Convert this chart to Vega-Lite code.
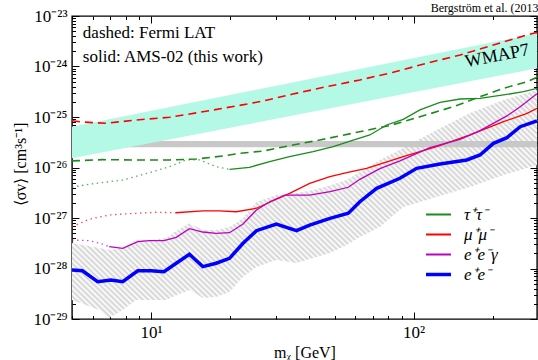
{
  "$schema": "https://vega.github.io/schema/vega-lite/v6.json",
  "width": 465,
  "height": 303,
  "autosize": {"type": "none"},
  "padding": {"left": 72, "top": 16, "right": 1, "bottom": 41},
  "background": "white",
  "title": {"text": "Bergström et al. (2013)", "anchor": "end", "fontSize": 12, "fontWeight": "normal", "font": "Liberation Serif", "offset": -2, "dx": 5, "dy": 6, "color": "#000"},
  "config": {
    "view": {"stroke": "#000", "strokeWidth": 1.4},
    "font": "Liberation Serif",
    "axis": {"grid": false, "domain": false, "tickColor": "#000", "labelColor": "#000", "labelFont": "Liberation Serif", "labelFontSize": 17, "titleFont": "Liberation Serif", "titleFontSize": 16, "titleFontWeight": "normal", "titleColor": "#000", "labelOverlap": false, "labelPadding": 12},
    "legend": {"title": null, "orient": "none", "legendX": 358, "legendY": 190, "symbolType": "stroke", "symbolSize": 625, "symbolStrokeWidth": 2, "labelFont": "Liberation Serif", "labelFontStyle": "italic", "labelFontSize": 17, "labelOffset": 17, "rowPadding": 2, "labelColor": "#000"}
  },
  "datasets": {
    "bands": [
      {"b": "wmap", "m": 5, "lo": 1.52e-26, "hi": 6.43e-26},
      {"b": "wmap", "m": 295, "lo": 9.21e-25, "hi": 4.54e-24},
      {"b": "relic", "m": 5, "lo": 2.51e-26, "hi": 3.35e-26},
      {"b": "relic", "m": 295, "lo": 2.51e-26, "hi": 3.35e-26}
    ],
    "hatch": [
      {"m": 5, "lo": 2.38e-29, "hi": 3.2e-28},
      {"m": 6.35, "lo": 1.51e-29, "hi": 2.55e-28},
      {"m": 6.93, "lo": 1.05e-29, "hi": 2.32e-28},
      {"m": 7.8, "lo": 1.51e-29, "hi": 2.55e-28},
      {"m": 8.77, "lo": 2.38e-29, "hi": 3.67e-28},
      {"m": 9.86, "lo": 2.38e-29, "hi": 3.67e-28},
      {"m": 11.45, "lo": 2.38e-29, "hi": 4.02e-28},
      {"m": 12.28, "lo": 2.85e-29, "hi": 5.28e-28},
      {"m": 14, "lo": 3.75e-29, "hi": 7.96e-28},
      {"m": 15.75, "lo": 2.61e-29, "hi": 5.78e-28},
      {"m": 17.7, "lo": 2.73e-29, "hi": 5.78e-28},
      {"m": 19.9, "lo": 3.43e-29, "hi": 6.64e-28},
      {"m": 22.4, "lo": 6.79e-29, "hi": 1.0e-27},
      {"m": 25.2, "lo": 1.07e-28, "hi": 2.07e-27},
      {"m": 30, "lo": 1.47e-28, "hi": 2.85e-27},
      {"m": 35.8, "lo": 1.29e-28, "hi": 3.13e-27},
      {"m": 41.4, "lo": 1.61e-28, "hi": 3.58e-27},
      {"m": 48, "lo": 2.03e-28, "hi": 4.41e-27},
      {"m": 55.6, "lo": 2.92e-28, "hi": 5.65e-27},
      {"m": 62.4, "lo": 4.21e-28, "hi": 8.14e-27},
      {"m": 74.4, "lo": 6.64e-28, "hi": 1.41e-26},
      {"m": 91.3, "lo": 1.65e-27, "hi": 2.43e-26},
      {"m": 122.3, "lo": 2.61e-27, "hi": 5.53e-26},
      {"m": 164, "lo": 4.11e-27, "hi": 1.2e-25},
      {"m": 220, "lo": 7.1e-27, "hi": 2.17e-25},
      {"m": 295, "lo": 1.12e-26, "hi": 3.43e-25}
    ],
    "lines": [
      {"s": "solid", "ch": "τ⁺τ⁻", "m": 19.9, "v": 9.21e-27},
      {"s": "solid", "ch": "τ⁺τ⁻", "m": 23.7, "v": 1.01e-26},
      {"s": "solid", "ch": "τ⁺τ⁻", "m": 28.3, "v": 1.30e-26},
      {"s": "solid", "ch": "τ⁺τ⁻", "m": 33.7, "v": 1.64e-26},
      {"s": "solid", "ch": "τ⁺τ⁻", "m": 41.4, "v": 2.06e-26},
      {"s": "solid", "ch": "τ⁺τ⁻", "m": 49.4, "v": 2.58e-26},
      {"s": "solid", "ch": "τ⁺τ⁻", "m": 58.9, "v": 3.50e-26},
      {"s": "solid", "ch": "τ⁺τ⁻", "m": 68.1, "v": 4.41e-26},
      {"s": "solid", "ch": "τ⁺τ⁻", "m": 78.9, "v": 6.95e-26},
      {"s": "solid", "ch": "τ⁺τ⁻", "m": 91.3, "v": 9.0e-26},
      {"s": "solid", "ch": "τ⁺τ⁻", "m": 105.7, "v": 1.38e-25},
      {"s": "solid", "ch": "τ⁺τ⁻", "m": 126, "v": 1.95e-25},
      {"s": "solid", "ch": "τ⁺τ⁻", "m": 150.3, "v": 2.27e-25},
      {"s": "solid", "ch": "τ⁺τ⁻", "m": 179, "v": 2.34e-25},
      {"s": "solid", "ch": "τ⁺τ⁻", "m": 219.9, "v": 2.73e-25},
      {"s": "solid", "ch": "τ⁺τ⁻", "m": 262.4, "v": 3.17e-25},
      {"s": "solid", "ch": "τ⁺τ⁻", "m": 295, "v": 3.7e-25},
      {"s": "dashed", "ch": "τ⁺τ⁻", "m": 5, "v": 1.35e-26},
      {"s": "dashed", "ch": "τ⁺τ⁻", "m": 6.54, "v": 1.43e-26},
      {"s": "dashed", "ch": "τ⁺τ⁻", "m": 8.77, "v": 1.41e-26},
      {"s": "dashed", "ch": "τ⁺τ⁻", "m": 11.76, "v": 1.41e-26},
      {"s": "dashed", "ch": "τ⁺τ⁻", "m": 14.86, "v": 1.47e-26},
      {"s": "dashed", "ch": "τ⁺τ⁻", "m": 18.77, "v": 1.69e-26},
      {"s": "dashed", "ch": "τ⁺τ⁻", "m": 21.7, "v": 1.91e-26},
      {"s": "dashed", "ch": "τ⁺τ⁻", "m": 26.7, "v": 2.12e-26},
      {"s": "dashed", "ch": "τ⁺τ⁻", "m": 34.7, "v": 2.79e-26},
      {"s": "dashed", "ch": "τ⁺τ⁻", "m": 43.9, "v": 3.5e-26},
      {"s": "dashed", "ch": "τ⁺τ⁻", "m": 81.3, "v": 6.8e-26},
      {"s": "dashed", "ch": "τ⁺τ⁻", "m": 105.7, "v": 1.01e-25},
      {"s": "dashed", "ch": "τ⁺τ⁻", "m": 141.6, "v": 1.6e-25},
      {"s": "dashed", "ch": "τ⁺τ⁻", "m": 179, "v": 2.52e-25},
      {"s": "dashed", "ch": "τ⁺τ⁻", "m": 219.9, "v": 3.7e-25},
      {"s": "dashed", "ch": "τ⁺τ⁻", "m": 270.4, "v": 5.0e-25},
      {"s": "dashed", "ch": "τ⁺τ⁻", "m": 295, "v": 6.11e-25},
      {"s": "dotted", "ch": "τ⁺τ⁻", "m": 5, "v": 4.11e-27},
      {"s": "dotted", "ch": "τ⁺τ⁻", "m": 6.17, "v": 4.86e-27},
      {"s": "dotted", "ch": "τ⁺τ⁻", "m": 7.8, "v": 5.65e-27},
      {"s": "dotted", "ch": "τ⁺τ⁻", "m": 9.86, "v": 7.89e-27},
      {"s": "dotted", "ch": "τ⁺τ⁻", "m": 11.76, "v": 1.04e-26},
      {"s": "dotted", "ch": "τ⁺τ⁻", "m": 13.6, "v": 1.41e-26},
      {"s": "dotted", "ch": "τ⁺τ⁻", "m": 15.3, "v": 1.41e-26},
      {"s": "dotted", "ch": "τ⁺τ⁻", "m": 17.7, "v": 1.04e-26},
      {"s": "dotted", "ch": "τ⁺τ⁻", "m": 19.9, "v": 9.21e-27},
      {"s": "solid", "ch": "μ⁺μ⁻", "m": 12.39, "v": 1.27e-27},
      {"s": "solid", "ch": "μ⁺μ⁻", "m": 15.75, "v": 1.38e-27},
      {"s": "solid", "ch": "μ⁺μ⁻", "m": 18.2, "v": 1.38e-27},
      {"s": "solid", "ch": "μ⁺μ⁻", "m": 21.1, "v": 1.33e-27},
      {"s": "solid", "ch": "μ⁺μ⁻", "m": 25.2, "v": 1.56e-27},
      {"s": "solid", "ch": "μ⁺μ⁻", "m": 29.6, "v": 2.27e-27},
      {"s": "solid", "ch": "μ⁺μ⁻", "m": 33.7, "v": 3.08e-27},
      {"s": "solid", "ch": "μ⁺μ⁻", "m": 40.2, "v": 4.86e-27},
      {"s": "solid", "ch": "μ⁺μ⁻", "m": 48, "v": 6.58e-27},
      {"s": "solid", "ch": "μ⁺μ⁻", "m": 55.6, "v": 7.89e-27},
      {"s": "solid", "ch": "μ⁺μ⁻", "m": 66.2, "v": 9.64e-27},
      {"s": "solid", "ch": "μ⁺μ⁻", "m": 74.4, "v": 1.17e-26},
      {"s": "solid", "ch": "μ⁺μ⁻", "m": 91.3, "v": 1.64e-26},
      {"s": "solid", "ch": "μ⁺μ⁻", "m": 122.3, "v": 2.58e-26},
      {"s": "solid", "ch": "μ⁺μ⁻", "m": 164, "v": 4.41e-26},
      {"s": "solid", "ch": "μ⁺μ⁻", "m": 219.9, "v": 8.07e-26},
      {"s": "solid", "ch": "μ⁺μ⁻", "m": 270.4, "v": 1.18e-25},
      {"s": "solid", "ch": "μ⁺μ⁻", "m": 295, "v": 1.49e-25},
      {"s": "dashed", "ch": "μ⁺μ⁻", "m": 5, "v": 8.45e-26},
      {"s": "dashed", "ch": "μ⁺μ⁻", "m": 5.48, "v": 7.96e-26},
      {"s": "dashed", "ch": "μ⁺μ⁻", "m": 6.73, "v": 7.5e-26},
      {"s": "dashed", "ch": "μ⁺μ⁻", "m": 8.77, "v": 8.73e-26},
      {"s": "dashed", "ch": "μ⁺μ⁻", "m": 11.76, "v": 9.86e-26},
      {"s": "dashed", "ch": "μ⁺μ⁻", "m": 15.75, "v": 1.27e-25},
      {"s": "dashed", "ch": "μ⁺μ⁻", "m": 21.1, "v": 1.65e-25},
      {"s": "dashed", "ch": "μ⁺μ⁻", "m": 26.7, "v": 2.07e-25},
      {"s": "dashed", "ch": "μ⁺μ⁻", "m": 34.7, "v": 2.85e-25},
      {"s": "dashed", "ch": "μ⁺μ⁻", "m": 46.6, "v": 3.98e-25},
      {"s": "dashed", "ch": "μ⁺μ⁻", "m": 62.4, "v": 5.41e-25},
      {"s": "dashed", "ch": "μ⁺μ⁻", "m": 83.6, "v": 7.68e-25},
      {"s": "dashed", "ch": "μ⁺μ⁻", "m": 112.1, "v": 1.16e-24},
      {"s": "dashed", "ch": "μ⁺μ⁻", "m": 150.3, "v": 1.69e-24},
      {"s": "dashed", "ch": "μ⁺μ⁻", "m": 201.3, "v": 2.67e-24},
      {"s": "dashed", "ch": "μ⁺μ⁻", "m": 270.4, "v": 4.21e-24},
      {"s": "dashed", "ch": "μ⁺μ⁻", "m": 295, "v": 4.75e-24},
      {"s": "dotted", "ch": "μ⁺μ⁻", "m": 5, "v": 6.73e-28},
      {"s": "dotted", "ch": "μ⁺μ⁻", "m": 5.82, "v": 9.42e-28},
      {"s": "dotted", "ch": "μ⁺μ⁻", "m": 6.93, "v": 1.15e-27},
      {"s": "dotted", "ch": "μ⁺μ⁻", "m": 8.77, "v": 1.24e-27},
      {"s": "dotted", "ch": "μ⁺μ⁻", "m": 10.45, "v": 1.3e-27},
      {"s": "dotted", "ch": "μ⁺μ⁻", "m": 12.39, "v": 1.27e-27},
      {"s": "solid", "ch": "e⁺e⁻γ", "m": 6.93, "v": 2.7e-28},
      {"s": "solid", "ch": "e⁺e⁻γ", "m": 7.8, "v": 2.51e-28},
      {"s": "solid", "ch": "e⁺e⁻γ", "m": 8.9, "v": 3.39e-28},
      {"s": "solid", "ch": "e⁺e⁻γ", "m": 9.86, "v": 3.55e-28},
      {"s": "solid", "ch": "e⁺e⁻γ", "m": 11.2, "v": 3.55e-28},
      {"s": "solid", "ch": "e⁺e⁻γ", "m": 12.47, "v": 4.15e-28},
      {"s": "solid", "ch": "e⁺e⁻γ", "m": 14, "v": 6.14e-28},
      {"s": "solid", "ch": "e⁺e⁻γ", "m": 15.75, "v": 5.28e-28},
      {"s": "solid", "ch": "e⁺e⁻γ", "m": 17.7, "v": 4.98e-28},
      {"s": "solid", "ch": "e⁺e⁻γ", "m": 19.9, "v": 5.12e-28},
      {"s": "solid", "ch": "e⁺e⁻γ", "m": 22.4, "v": 7.6e-28},
      {"s": "solid", "ch": "e⁺e⁻γ", "m": 25.2, "v": 1.44e-27},
      {"s": "solid", "ch": "e⁺e⁻γ", "m": 28.3, "v": 2.1e-27},
      {"s": "solid", "ch": "e⁺e⁻γ", "m": 32.3, "v": 2.85e-27},
      {"s": "solid", "ch": "e⁺e⁻γ", "m": 40.2, "v": 2.85e-27},
      {"s": "solid", "ch": "e⁺e⁻γ", "m": 48, "v": 3.32e-27},
      {"s": "solid", "ch": "e⁺e⁻γ", "m": 56.4, "v": 4.06e-27},
      {"s": "solid", "ch": "e⁺e⁻γ", "m": 62.4, "v": 5.83e-27},
      {"s": "solid", "ch": "e⁺e⁻γ", "m": 74.4, "v": 9.5e-27},
      {"s": "solid", "ch": "e⁺e⁻γ", "m": 88.7, "v": 1.35e-26},
      {"s": "solid", "ch": "e⁺e⁻γ", "m": 115.4, "v": 2.47e-26},
      {"s": "solid", "ch": "e⁺e⁻γ", "m": 150.3, "v": 3.61e-26},
      {"s": "solid", "ch": "e⁺e⁻γ", "m": 179, "v": 5.36e-26},
      {"s": "solid", "ch": "e⁺e⁻γ", "m": 226.6, "v": 1.05e-25},
      {"s": "solid", "ch": "e⁺e⁻γ", "m": 254.6, "v": 1.6e-25},
      {"s": "solid", "ch": "e⁺e⁻γ", "m": 295, "v": 2.9e-25},
      {"s": "dotted", "ch": "e⁺e⁻γ", "m": 5, "v": 3.67e-28},
      {"s": "dotted", "ch": "e⁺e⁻γ", "m": 5.82, "v": 3.55e-28},
      {"s": "dotted", "ch": "e⁺e⁻γ", "m": 6.54, "v": 3.05e-28},
      {"s": "dotted", "ch": "e⁺e⁻γ", "m": 6.93, "v": 2.7e-28},
      {"s": "solid", "ch": "e⁺e⁻", "m": 5, "v": 9.33e-29},
      {"s": "solid", "ch": "e⁺e⁻", "m": 5.48, "v": 9.04e-29},
      {"s": "solid", "ch": "e⁺e⁻", "m": 6.26, "v": 5.48e-29},
      {"s": "solid", "ch": "e⁺e⁻", "m": 7.04, "v": 5.92e-29},
      {"s": "solid", "ch": "e⁺e⁻", "m": 7.8, "v": 5.48e-29},
      {"s": "solid", "ch": "e⁺e⁻", "m": 8.9, "v": 9.04e-29},
      {"s": "solid", "ch": "e⁺e⁻", "m": 10, "v": 9.04e-29},
      {"s": "solid", "ch": "e⁺e⁻", "m": 11.2, "v": 8.65e-29},
      {"s": "solid", "ch": "e⁺e⁻", "m": 12.47, "v": 1.27e-28},
      {"s": "solid", "ch": "e⁺e⁻", "m": 14, "v": 1.91e-28},
      {"s": "solid", "ch": "e⁺e⁻", "m": 15.75, "v": 1.09e-28},
      {"s": "solid", "ch": "e⁺e⁻", "m": 17.7, "v": 1.27e-28},
      {"s": "solid", "ch": "e⁺e⁻", "m": 19.9, "v": 1.59e-28},
      {"s": "solid", "ch": "e⁺e⁻", "m": 22.4, "v": 3.15e-28},
      {"s": "solid", "ch": "e⁺e⁻", "m": 25.2, "v": 5.61e-28},
      {"s": "solid", "ch": "e⁺e⁻", "m": 30, "v": 7.6e-28},
      {"s": "solid", "ch": "e⁺e⁻", "m": 35.8, "v": 5.61e-28},
      {"s": "solid", "ch": "e⁺e⁻", "m": 40.2, "v": 7.26e-28},
      {"s": "solid", "ch": "e⁺e⁻", "m": 48, "v": 9.86e-28},
      {"s": "solid", "ch": "e⁺e⁻", "m": 56.4, "v": 1.24e-27},
      {"s": "solid", "ch": "e⁺e⁻", "m": 62.4, "v": 2.1e-27},
      {"s": "solid", "ch": "e⁺e⁻", "m": 72.3, "v": 3.87e-27},
      {"s": "solid", "ch": "e⁺e⁻", "m": 88.7, "v": 6.11e-27},
      {"s": "solid", "ch": "e⁺e⁻", "m": 102.7, "v": 9.64e-27},
      {"s": "solid", "ch": "e⁺e⁻", "m": 126, "v": 1.17e-26},
      {"s": "solid", "ch": "e⁺e⁻", "m": 159.3, "v": 1.41e-26},
      {"s": "solid", "ch": "e⁺e⁻", "m": 179, "v": 1.77e-26},
      {"s": "solid", "ch": "e⁺e⁻", "m": 201.3, "v": 3.01e-26},
      {"s": "solid", "ch": "e⁺e⁻", "m": 226.6, "v": 3.89e-26},
      {"s": "solid", "ch": "e⁺e⁻", "m": 254.6, "v": 6.43e-26},
      {"s": "solid", "ch": "e⁺e⁻", "m": 295, "v": 8.33e-26}
    ],
    "notes": [
      {"m": 5.5, "v": 4.6e-24, "t": "dashed: Fermi LAT"},
      {"m": 5.5, "v": 1.54e-24, "t": "solid: AMS-02 (this work)"}
    ],
    "wmap": [
      {"m": 208, "v": 1.6e-24, "t": "WMAP7"}
    ]
  },
  "layer": [
    {
      "data": {"name": "hatch"},
      "mark": {"type": "area", "clip": true, "fill": {"gradient": "linear", "x1": 0, "y1": 1, "x2": 1.2, "y2": 0.4, "stops": [
        {"offset": 0, "color": "#d2d2d2"}, {"offset": 0.004, "color": "#fff"}, {"offset": 0.008, "color": "#d2d2d2"}, {"offset": 0.012, "color": "#fff"}, {"offset": 0.016, "color": "#d2d2d2"}, {"offset": 0.02, "color": "#fff"}, {"offset": 0.024, "color": "#d2d2d2"}, {"offset": 0.028, "color": "#fff"}, {"offset": 0.032, "color": "#d2d2d2"}, {"offset": 0.036, "color": "#fff"},
        {"offset": 0.04, "color": "#d2d2d2"}, {"offset": 0.044, "color": "#fff"}, {"offset": 0.048, "color": "#d2d2d2"}, {"offset": 0.052, "color": "#fff"}, {"offset": 0.056, "color": "#d2d2d2"}, {"offset": 0.06, "color": "#fff"}, {"offset": 0.064, "color": "#d2d2d2"}, {"offset": 0.068, "color": "#fff"}, {"offset": 0.072, "color": "#d2d2d2"}, {"offset": 0.076, "color": "#fff"},
        {"offset": 0.08, "color": "#d2d2d2"}, {"offset": 0.084, "color": "#fff"}, {"offset": 0.088, "color": "#d2d2d2"}, {"offset": 0.092, "color": "#fff"}, {"offset": 0.096, "color": "#d2d2d2"}, {"offset": 0.1, "color": "#fff"}, {"offset": 0.104, "color": "#d2d2d2"}, {"offset": 0.108, "color": "#fff"}, {"offset": 0.112, "color": "#d2d2d2"}, {"offset": 0.116, "color": "#fff"},
        {"offset": 0.12, "color": "#d2d2d2"}, {"offset": 0.124, "color": "#fff"}, {"offset": 0.128, "color": "#d2d2d2"}, {"offset": 0.132, "color": "#fff"}, {"offset": 0.136, "color": "#d2d2d2"}, {"offset": 0.14, "color": "#fff"}, {"offset": 0.144, "color": "#d2d2d2"}, {"offset": 0.148, "color": "#fff"}, {"offset": 0.152, "color": "#d2d2d2"}, {"offset": 0.156, "color": "#fff"},
        {"offset": 0.16, "color": "#d2d2d2"}, {"offset": 0.164, "color": "#fff"}, {"offset": 0.168, "color": "#d2d2d2"}, {"offset": 0.172, "color": "#fff"}, {"offset": 0.176, "color": "#d2d2d2"}, {"offset": 0.18, "color": "#fff"}, {"offset": 0.184, "color": "#d2d2d2"}, {"offset": 0.188, "color": "#fff"}, {"offset": 0.192, "color": "#d2d2d2"}, {"offset": 0.196, "color": "#fff"},
        {"offset": 0.2, "color": "#d2d2d2"}, {"offset": 0.204, "color": "#fff"}, {"offset": 0.208, "color": "#d2d2d2"}, {"offset": 0.212, "color": "#fff"}, {"offset": 0.216, "color": "#d2d2d2"}, {"offset": 0.22, "color": "#fff"}, {"offset": 0.224, "color": "#d2d2d2"}, {"offset": 0.228, "color": "#fff"}, {"offset": 0.232, "color": "#d2d2d2"}, {"offset": 0.236, "color": "#fff"},
        {"offset": 0.24, "color": "#d2d2d2"}, {"offset": 0.244, "color": "#fff"}, {"offset": 0.248, "color": "#d2d2d2"}, {"offset": 0.252, "color": "#fff"}, {"offset": 0.256, "color": "#d2d2d2"}, {"offset": 0.26, "color": "#fff"}, {"offset": 0.264, "color": "#d2d2d2"}, {"offset": 0.268, "color": "#fff"}, {"offset": 0.272, "color": "#d2d2d2"}, {"offset": 0.276, "color": "#fff"},
        {"offset": 0.28, "color": "#d2d2d2"}, {"offset": 0.284, "color": "#fff"}, {"offset": 0.288, "color": "#d2d2d2"}, {"offset": 0.292, "color": "#fff"}, {"offset": 0.296, "color": "#d2d2d2"}, {"offset": 0.3, "color": "#fff"}, {"offset": 0.304, "color": "#d2d2d2"}, {"offset": 0.308, "color": "#fff"}, {"offset": 0.312, "color": "#d2d2d2"}, {"offset": 0.316, "color": "#fff"},
        {"offset": 0.32, "color": "#d2d2d2"}, {"offset": 0.324, "color": "#fff"}, {"offset": 0.328, "color": "#d2d2d2"}, {"offset": 0.332, "color": "#fff"}, {"offset": 0.336, "color": "#d2d2d2"}, {"offset": 0.34, "color": "#fff"}, {"offset": 0.344, "color": "#d2d2d2"}, {"offset": 0.348, "color": "#fff"}, {"offset": 0.352, "color": "#d2d2d2"}, {"offset": 0.356, "color": "#fff"},
        {"offset": 0.36, "color": "#d2d2d2"}, {"offset": 0.364, "color": "#fff"}, {"offset": 0.368, "color": "#d2d2d2"}, {"offset": 0.372, "color": "#fff"}, {"offset": 0.376, "color": "#d2d2d2"}, {"offset": 0.38, "color": "#fff"}, {"offset": 0.384, "color": "#d2d2d2"}, {"offset": 0.388, "color": "#fff"}, {"offset": 0.392, "color": "#d2d2d2"}, {"offset": 0.396, "color": "#fff"},
        {"offset": 0.4, "color": "#d2d2d2"}, {"offset": 0.404, "color": "#fff"}, {"offset": 0.408, "color": "#d2d2d2"}, {"offset": 0.412, "color": "#fff"}, {"offset": 0.416, "color": "#d2d2d2"}, {"offset": 0.42, "color": "#fff"}, {"offset": 0.424, "color": "#d2d2d2"}, {"offset": 0.428, "color": "#fff"}, {"offset": 0.432, "color": "#d2d2d2"}, {"offset": 0.436, "color": "#fff"},
        {"offset": 0.44, "color": "#d2d2d2"}, {"offset": 0.444, "color": "#fff"}, {"offset": 0.448, "color": "#d2d2d2"}, {"offset": 0.452, "color": "#fff"}, {"offset": 0.456, "color": "#d2d2d2"}, {"offset": 0.46, "color": "#fff"}, {"offset": 0.464, "color": "#d2d2d2"}, {"offset": 0.468, "color": "#fff"}, {"offset": 0.472, "color": "#d2d2d2"}, {"offset": 0.476, "color": "#fff"},
        {"offset": 0.48, "color": "#d2d2d2"}, {"offset": 0.484, "color": "#fff"}, {"offset": 0.488, "color": "#d2d2d2"}, {"offset": 0.492, "color": "#fff"}, {"offset": 0.496, "color": "#d2d2d2"}, {"offset": 0.5, "color": "#fff"}, {"offset": 0.504, "color": "#d2d2d2"}, {"offset": 0.508, "color": "#fff"}, {"offset": 0.512, "color": "#d2d2d2"}, {"offset": 0.516, "color": "#fff"},
        {"offset": 0.52, "color": "#d2d2d2"}, {"offset": 0.524, "color": "#fff"}, {"offset": 0.528, "color": "#d2d2d2"}, {"offset": 0.532, "color": "#fff"}, {"offset": 0.536, "color": "#d2d2d2"}, {"offset": 0.54, "color": "#fff"}, {"offset": 0.544, "color": "#d2d2d2"}, {"offset": 0.548, "color": "#fff"}, {"offset": 0.552, "color": "#d2d2d2"}, {"offset": 0.556, "color": "#fff"},
        {"offset": 0.56, "color": "#d2d2d2"}, {"offset": 0.564, "color": "#fff"}, {"offset": 0.568, "color": "#d2d2d2"}, {"offset": 0.572, "color": "#fff"}, {"offset": 0.576, "color": "#d2d2d2"}, {"offset": 0.58, "color": "#fff"}, {"offset": 0.584, "color": "#d2d2d2"}, {"offset": 0.588, "color": "#fff"}, {"offset": 0.592, "color": "#d2d2d2"}, {"offset": 0.596, "color": "#fff"},
        {"offset": 0.6, "color": "#d2d2d2"}, {"offset": 0.604, "color": "#fff"}, {"offset": 0.608, "color": "#d2d2d2"}, {"offset": 0.612, "color": "#fff"}, {"offset": 0.616, "color": "#d2d2d2"}, {"offset": 0.62, "color": "#fff"}, {"offset": 0.624, "color": "#d2d2d2"}, {"offset": 0.628, "color": "#fff"}, {"offset": 0.632, "color": "#d2d2d2"}, {"offset": 0.636, "color": "#fff"},
        {"offset": 0.64, "color": "#d2d2d2"}, {"offset": 0.644, "color": "#fff"}, {"offset": 0.648, "color": "#d2d2d2"}, {"offset": 0.652, "color": "#fff"}, {"offset": 0.656, "color": "#d2d2d2"}, {"offset": 0.66, "color": "#fff"}, {"offset": 0.664, "color": "#d2d2d2"}, {"offset": 0.668, "color": "#fff"}, {"offset": 0.672, "color": "#d2d2d2"}, {"offset": 0.676, "color": "#fff"},
        {"offset": 0.68, "color": "#d2d2d2"}, {"offset": 0.684, "color": "#fff"}, {"offset": 0.688, "color": "#d2d2d2"}, {"offset": 0.692, "color": "#fff"}, {"offset": 0.696, "color": "#d2d2d2"}, {"offset": 0.7, "color": "#fff"}, {"offset": 0.704, "color": "#d2d2d2"}, {"offset": 0.708, "color": "#fff"}, {"offset": 0.712, "color": "#d2d2d2"}, {"offset": 0.716, "color": "#fff"},
        {"offset": 0.72, "color": "#d2d2d2"}, {"offset": 0.724, "color": "#fff"}, {"offset": 0.728, "color": "#d2d2d2"}, {"offset": 0.732, "color": "#fff"}, {"offset": 0.736, "color": "#d2d2d2"}, {"offset": 0.74, "color": "#fff"}, {"offset": 0.744, "color": "#d2d2d2"}, {"offset": 0.748, "color": "#fff"}, {"offset": 0.752, "color": "#d2d2d2"}, {"offset": 0.756, "color": "#fff"},
        {"offset": 0.76, "color": "#d2d2d2"}, {"offset": 0.764, "color": "#fff"}, {"offset": 0.768, "color": "#d2d2d2"}, {"offset": 0.772, "color": "#fff"}, {"offset": 0.776, "color": "#d2d2d2"}, {"offset": 0.78, "color": "#fff"}, {"offset": 0.784, "color": "#d2d2d2"}, {"offset": 0.788, "color": "#fff"}, {"offset": 0.792, "color": "#d2d2d2"}, {"offset": 0.796, "color": "#fff"},
        {"offset": 0.8, "color": "#d2d2d2"}, {"offset": 0.804, "color": "#fff"}, {"offset": 0.808, "color": "#d2d2d2"}, {"offset": 0.812, "color": "#fff"}, {"offset": 0.816, "color": "#d2d2d2"}, {"offset": 0.82, "color": "#fff"}, {"offset": 0.824, "color": "#d2d2d2"}, {"offset": 0.828, "color": "#fff"}, {"offset": 0.832, "color": "#d2d2d2"}, {"offset": 0.836, "color": "#fff"},
        {"offset": 0.84, "color": "#d2d2d2"}, {"offset": 0.844, "color": "#fff"}, {"offset": 0.848, "color": "#d2d2d2"}, {"offset": 0.852, "color": "#fff"}, {"offset": 0.856, "color": "#d2d2d2"}, {"offset": 0.86, "color": "#fff"}, {"offset": 0.864, "color": "#d2d2d2"}, {"offset": 0.868, "color": "#fff"}, {"offset": 0.872, "color": "#d2d2d2"}, {"offset": 0.876, "color": "#fff"},
        {"offset": 0.88, "color": "#d2d2d2"}, {"offset": 0.884, "color": "#fff"}, {"offset": 0.888, "color": "#d2d2d2"}, {"offset": 0.892, "color": "#fff"}, {"offset": 0.896, "color": "#d2d2d2"}, {"offset": 0.9, "color": "#fff"}, {"offset": 0.904, "color": "#d2d2d2"}, {"offset": 0.908, "color": "#fff"}, {"offset": 0.912, "color": "#d2d2d2"}, {"offset": 0.916, "color": "#fff"},
        {"offset": 0.92, "color": "#d2d2d2"}, {"offset": 0.924, "color": "#fff"}, {"offset": 0.928, "color": "#d2d2d2"}, {"offset": 0.932, "color": "#fff"}, {"offset": 0.936, "color": "#d2d2d2"}, {"offset": 0.94, "color": "#fff"}, {"offset": 0.944, "color": "#d2d2d2"}, {"offset": 0.948, "color": "#fff"}, {"offset": 0.952, "color": "#d2d2d2"}, {"offset": 0.956, "color": "#fff"},
        {"offset": 0.96, "color": "#d2d2d2"}, {"offset": 0.964, "color": "#fff"}, {"offset": 0.968, "color": "#d2d2d2"}, {"offset": 0.972, "color": "#fff"}, {"offset": 0.976, "color": "#d2d2d2"}, {"offset": 0.98, "color": "#fff"}, {"offset": 0.984, "color": "#d2d2d2"}, {"offset": 0.988, "color": "#fff"}, {"offset": 0.992, "color": "#d2d2d2"}, {"offset": 0.996, "color": "#fff"},
        {"offset": 1, "color": "#d2d2d2"}
      ]}},
      "encoding": {
        "x": {"field": "m", "type": "quantitative", "scale": {"type": "log", "domain": [5, 295], "nice": false},
          "axis": {"orient": "bottom", "title": "mᵪ [GeV]", "titleY": 33, "titleBaseline": "middle",
            "values": [5, 6, 7, 8, 9, 10, 20, 30, 40, 50, 60, 70, 80, 90, 100, 200],
            "tickSize": {"condition": {"test": "abs(log(datum.value)/LN10-round(log(datum.value)/LN10))<0.001", "value": -7}, "value": -3.5},
            "labelExpr": "abs(log(datum.value)/LN10-round(log(datum.value)/LN10))<0.001 ? '10'+replace(replace(replace(replace(replace(replace(replace(replace(replace(replace(''+round(log(datum.value)/LN10),'-','⁻'),'1','¹'),'2','²'),'3','³'),'4','⁴'),'5','⁵'),'6','⁶'),'7','⁷'),'8','⁸'),'9','⁹') : ''"}},
        "y": {"field": "lo", "type": "quantitative", "scale": {"type": "log", "domain": [1e-29, 1e-23], "nice": false},
          "axis": {"orient": "left", "title": "⟨σv⟩ [cm³s⁻¹]", "titleX": -52, "titleY": 148, "titleBaseline": "middle",
            "values": [1e-29, 2e-29, 3e-29, 4e-29, 5e-29, 6e-29, 7e-29, 8e-29, 9e-29, 1e-28, 2e-28, 3e-28, 4e-28, 5e-28, 6e-28, 7e-28, 8e-28, 9e-28, 1e-27, 2e-27, 3e-27, 4e-27, 5e-27, 6e-27, 7e-27, 8e-27, 9e-27, 1e-26, 2e-26, 3e-26, 4e-26, 5e-26, 6e-26, 7e-26, 8e-26, 9e-26, 1e-25, 2e-25, 3e-25, 4e-25, 5e-25, 6e-25, 7e-25, 8e-25, 9e-25, 1e-24, 2e-24, 3e-24, 4e-24, 5e-24, 6e-24, 7e-24, 8e-24, 9e-24, 1e-23],
            "tickSize": {"condition": {"test": "abs(log(datum.value)/LN10-round(log(datum.value)/LN10))<0.001", "value": -7}, "value": -3.5},
            "labelExpr": "abs(log(datum.value)/LN10-round(log(datum.value)/LN10))<0.001 ? '10'+replace(replace(replace(replace(replace(replace(replace(replace(replace(replace(''+round(log(datum.value)/LN10),'-','⁻'),'1','¹'),'2','²'),'3','³'),'4','⁴'),'5','⁵'),'6','⁶'),'7','⁷'),'8','⁸'),'9','⁹') : ''"}},
        "y2": {"field": "hi"}
      }
    },
    {
      "data": {"name": "bands"},
      "transform": [{"filter": "datum.b === 'relic'"}],
      "mark": {"type": "area", "fill": "#c8c8c8", "clip": true},
      "encoding": {
        "x": {"field": "m", "type": "quantitative", "scale": {"type": "log", "domain": [5, 295], "nice": false},
          "axis": {"orient": "top", "title": null, "labels": false,
            "values": [5, 6, 7, 8, 9, 10, 20, 30, 40, 50, 60, 70, 80, 90, 100, 200],
            "tickSize": {"condition": {"test": "abs(log(datum.value)/LN10-round(log(datum.value)/LN10))<0.001", "value": -7}, "value": -3.5}}},
        "y": {"field": "lo", "type": "quantitative", "scale": {"type": "log", "domain": [1e-29, 1e-23], "nice": false},
          "axis": {"orient": "right", "title": null, "labels": false,
            "values": [1e-29, 2e-29, 3e-29, 4e-29, 5e-29, 6e-29, 7e-29, 8e-29, 9e-29, 1e-28, 2e-28, 3e-28, 4e-28, 5e-28, 6e-28, 7e-28, 8e-28, 9e-28, 1e-27, 2e-27, 3e-27, 4e-27, 5e-27, 6e-27, 7e-27, 8e-27, 9e-27, 1e-26, 2e-26, 3e-26, 4e-26, 5e-26, 6e-26, 7e-26, 8e-26, 9e-26, 1e-25, 2e-25, 3e-25, 4e-25, 5e-25, 6e-25, 7e-25, 8e-25, 9e-25, 1e-24, 2e-24, 3e-24, 4e-24, 5e-24, 6e-24, 7e-24, 8e-24, 9e-24, 1e-23],
            "tickSize": {"condition": {"test": "abs(log(datum.value)/LN10-round(log(datum.value)/LN10))<0.001", "value": -7}, "value": -3.5}}},
        "y2": {"field": "hi"}
      }
    },
    {
      "data": {"name": "bands"},
      "transform": [{"filter": "datum.b === 'wmap'"}],
      "mark": {"type": "area", "fill": "#b4f8e6", "clip": true},
      "encoding": {
        "x": {"field": "m", "type": "quantitative", "axis": null},
        "y": {"field": "lo", "type": "quantitative", "axis": null},
        "y2": {"field": "hi"}
      }
    },
    {
      "data": {"name": "lines"},
      "transform": [{"filter": "datum.s === 'dotted'"}],
      "mark": {"type": "line", "strokeWidth": 1.3, "strokeDash": [1.5, 3.5], "opacity": 0.7, "clip": true},
      "encoding": {
        "x": {"field": "m", "type": "quantitative", "axis": null},
        "y": {"field": "v", "type": "quantitative", "axis": null},
        "detail": {"field": "ch"},
        "stroke": {"condition": [{"test": "datum.ch === 'τ⁺τ⁻'", "value": "#1a8c1a"}, {"test": "datum.ch === 'μ⁺μ⁻'", "value": "#ff0000"}], "value": "#bf00bf"}
      }
    },
    {
      "data": {"name": "lines"},
      "transform": [{"filter": "datum.s === 'dashed'"}],
      "mark": {"type": "line", "strokeWidth": 1.6, "strokeDash": [8, 5], "clip": true},
      "encoding": {
        "x": {"field": "m", "type": "quantitative", "axis": null},
        "y": {"field": "v", "type": "quantitative", "axis": null},
        "detail": {"field": "ch"},
        "stroke": {"condition": {"test": "datum.ch === 'τ⁺τ⁻'", "value": "#1a8c1a"}, "value": "#ff0000"}
      }
    },
    {
      "data": {"name": "lines"},
      "transform": [{"filter": "datum.s === 'solid'"}],
      "mark": {"type": "line", "clip": true},
      "encoding": {
        "x": {"field": "m", "type": "quantitative", "axis": null},
        "y": {"field": "v", "type": "quantitative", "axis": null},
        "color": {"field": "ch", "type": "nominal",
          "scale": {"domain": ["τ⁺τ⁻", "μ⁺μ⁻", "e⁺e⁻γ", "e⁺e⁻"], "range": ["#1a8c1a", "#ff0000", "#bf00bf", "#0000ff"]},
          "legend": {"encode": {"symbols": {"update": {"strokeWidth": {"signal": "datum.value === 'e⁺e⁻' ? 3.5 : 2"}}}}}},
        "strokeWidth": {"condition": {"test": "datum.ch === 'e⁺e⁻'", "value": 3.5}, "value": 1.3}
      }
    },
    {
      "data": {"name": "notes"},
      "mark": {"type": "text", "align": "left", "baseline": "middle", "fontSize": 17, "font": "Liberation Serif", "color": "#000"},
      "encoding": {
        "x": {"field": "m", "type": "quantitative", "axis": null},
        "y": {"field": "v", "type": "quantitative", "axis": null},
        "text": {"field": "t"}
      }
    },
    {
      "data": {"name": "wmap"},
      "mark": {"type": "text", "align": "center", "baseline": "middle", "fontSize": 18, "angle": 349, "font": "Liberation Serif", "color": "#000"},
      "encoding": {
        "x": {"field": "m", "type": "quantitative", "axis": null},
        "y": {"field": "v", "type": "quantitative", "axis": null},
        "text": {"field": "t"}
      }
    }
  ],
  "resolve": {"axis": {"x": "independent", "y": "independent"}}
}
